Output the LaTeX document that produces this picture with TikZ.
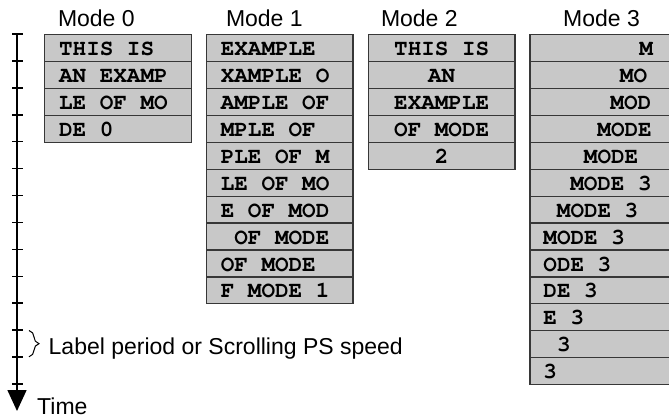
\documentclass[tikz,border=0pt]{standalone}
\usepackage{fontspec}
\setmainfont{Liberation Sans}
\newfontfamily\courfont{TeX Gyre Cursor}
\usetikzlibrary{arrows.meta,decorations.pathreplacing}
\definecolor{cellgray}{RGB}{200,200,200}
\definecolor{cellline}{RGB}{55,55,55}
\tikzset{
  cell/.style={draw=cellline, line width=1.3pt, fill=cellgray, anchor=north west,
    minimum width=146.7pt, minimum height=26.92pt, inner xsep=14.5pt, inner ysep=0pt,
    text width=117.7pt, text height=21pt, text depth=5.92pt,
    font=\fontsize{22.6}{22.6}\selectfont\courfont\bfseries, align=left},
  cellc/.style={cell, align=center},
  cellr/.style={cell, minimum width=140pt, inner xsep=13.5pt, text width=113pt},
  title/.style={anchor=base west, inner sep=0pt, font=\fontsize{23}{23}\selectfont},
  axisline/.style={line width=1.5pt, draw=black},
  tickline/.style={line width=1.5pt, draw=black},
  bracestyle/.style={decorate, decoration={brace, amplitude=10pt}, line width=1pt},
}
\newcommand{\leadsp}[1]{\hspace*{#1pt}}
\newcommand{\sk}{\hphantom{M}}
\begin{document}
\begin{tikzpicture}[x=1pt,y=-1pt]
\useasboundingbox (0,0) rectangle (669,419);
\begin{scope}
\clip (0,0) rectangle (669,419);
% titles
\node[title] (t0) at (57.8,27) {Mode 0};
\node[title] (t1) at (225.8,27) {Mode 1};
\node[title] (t2) at (380.8,27) {Mode 2};
\node[title] (t3) at (563,27) {Mode 3};
% Mode 0
\node[cell] (a1) at (44,34) {THIS\sk IS};
\node[cell] (a2) at (44,60.92) {AN\sk EXAMP};
\node[cell] (a3) at (44,87.84) {LE\sk OF\sk MO};
\node[cell] (a4) at (44,114.76) {DE\sk 0};
% Mode 1
\node[cell] (b1) at (205.7,34) {EXAMPLE};
\node[cell] (b2) at (205.7,60.92) {XAMPLE\sk O};
\node[cell] (b3) at (205.7,87.84) {AMPLE\sk OF};
\node[cell] (b4) at (205.7,114.76) {MPLE\sk OF};
\node[cell] (b5) at (205.7,141.68) {PLE\sk OF\sk M};
\node[cell] (b6) at (205.7,168.6) {LE\sk OF\sk MO};
\node[cell] (b7) at (205.7,195.52) {E\sk OF\sk MOD};
\node[cell] (b8) at (205.7,222.44) {\sk OF\sk MODE};
\node[cell] (b9) at (205.7,249.36) {OF\sk MODE};
\node[cell] (b10) at (205.7,276.28) {F\sk MODE\sk 1};
% Mode 2
\node[cellc] (c1) at (367.7,34) {THIS\sk IS};
\node[cellc] (c2) at (367.7,60.92) {AN};
\node[cellc] (c3) at (367.7,87.84) {EXAMPLE};
\node[cellc] (c4) at (367.7,114.76) {OF\sk MODE};
\node[cellc] (c5) at (367.7,141.68) {2};
% Mode 3
\node[cellr] (d1) at (529.3,34) {\leadsp{96}M};
\node[cellr] (d2) at (529.3,60.92) {\leadsp{76.5}MO};
\node[cellr] (d3) at (529.3,87.84) {\leadsp{67}MOD};
\node[cellr] (d4) at (529.3,114.76) {\leadsp{54}MODE};
\node[cellr] (d5) at (529.3,141.68) {\leadsp{40.5}MODE};
\node[cellr] (d6) at (529.3,168.6) {\leadsp{26.8}MODE\sk 3};
\node[cellr] (d7) at (529.3,195.52) {\leadsp{13.5}MODE\sk 3};
\node[cellr] (d8) at (529.3,222.44) {MODE\sk 3};
\node[cellr] (d9) at (529.3,249.36) {ODE\sk 3};
\node[cellr] (d10) at (529.3,276.28) {DE\sk 3};
\node[cellr] (d11) at (529.3,303.2) {E\sk 3};
\node[cellr] (d12) at (529.3,330.12) {\sk 3};
\node[cellr] (d13) at (529.3,357.04) {3};
% time axis
\coordinate (ax0) at (17,34);
\coordinate (ax1) at (17,411);
\draw[axisline, -{Triangle[width=19pt,length=21pt]}] (ax0) -- (ax1);
\foreach \k in {0,...,13} {
  \draw[tickline] (12,{34+\k*26.92}) -- (22.5,{34+\k*26.92});
}
\coordinate (br0) at (29,330.5);
\coordinate (br1) at (29,356.8);
\draw[bracestyle] (br0) -- (br1);
\node[title] (lab) at (48.5,354.5) {Label period or Scrolling PS speed};
\node[title] (time) at (37,414.5) {Time};
\end{scope}
\end{tikzpicture}
\end{document}
